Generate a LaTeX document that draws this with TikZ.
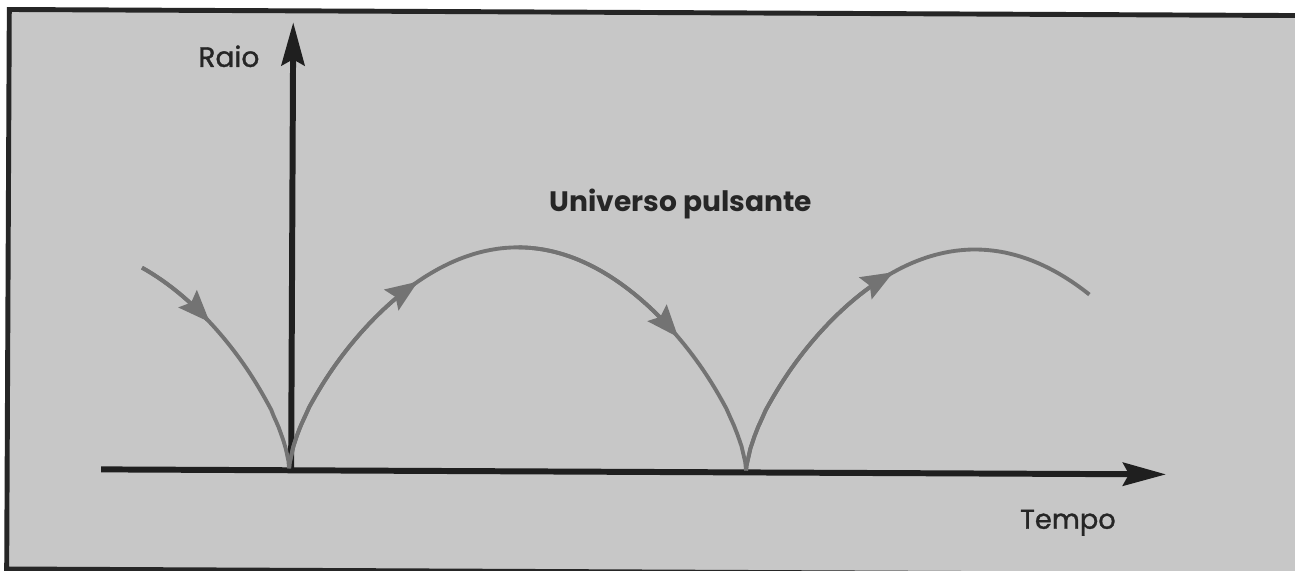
\documentclass[tikz,border=0pt]{standalone}
\usepackage{fontspec}
\setmainfont{Poppins}
\usetikzlibrary{arrows.meta}
\tikzstyle{eixo} = [draw=black!88, line width=3.4pt, -{Stealth[length=0.86cm,width=0.46cm,inset=0.12cm]}]
\tikzstyle{arco} = [draw=black!55, line width=2.2pt, line join=round]
\tikzstyle{arcoseta} = [arco, -{Stealth[length=0.64cm,width=0.5cm,inset=0.1cm]}]
\tikzstyle{rotulo} = [font=\fontsize{16}{18}\selectfont\addfontfeature{FakeBold=1.2}, text=black!85, inner sep=0pt, anchor=base west]

\begin{document}
\begin{tikzpicture}[x=0.02cm, y=-0.02cm,
    declare function={raio(\s)=222*pow(abs(sin(180*\s)),0.65);}]
    \useasboundingbox (0,0) rectangle (1295,571);
    \fill[white] (0,0) rectangle (1295,571);
  \begin{scope}[rotate around={-0.27:(650,285)}]
    % moldura
    \fill[black!22] (8,12.5) rectangle (1320,575);
    \draw[line width=2.8pt, black!85] (1320,12.5) -- (8,12.5) -- (8,572) -- (1320,572);
    % eixos
    \coordinate (O) at (292,472);
    \coordinate (xini) at (102,472);
    \coordinate (xfim) at (1167,472);
    \coordinate (yfim) at (292,24);
    \coordinate (c1) at (290,470);
    \coordinate (c2) at (747,470);
    \draw[eixo] (xini) -- (xfim);
    \draw[eixo] ([yshift=-0.05cm]O) -- (yfim);
    \node[rotulo] (raio) at (197,69) {Raio};
    \node[rotulo, font=\fontsize{15.5}{18}\selectfont\addfontfeature{FakeBold=1.2}] (tempo) at (1021,527) {Tempo};
    \node[rotulo, font=\fontsize{16}{18}\selectfont\bfseries] (titulo) at (549,211.5) {Universo pulsante};
    % ciclo anterior
    \draw[arco] plot[domain=0.676:0.999, samples=60] ({-167+457*\x},{470-raio(\x)}) -- (c1);
    \draw[arcoseta] plot[domain=0.676:0.825, samples=30] ({-167+457*\x},{470-raio(\x)});
    % ciclo central
    \draw[arco] (c1) -- plot[domain=0.001:0.999, samples=120] ({290+457*\x},{470-raio(\x)}) -- (c2);
    \draw[arcoseta] (c1) -- plot[domain=0.001:0.28, samples=40] ({290+457*\x},{470-raio(\x)});
    \draw[arcoseta] plot[domain=0.5:0.85, samples=40] ({290+457*\x},{470-raio(\x)});
    % ciclo seguinte
    \draw[arco] (c2) -- plot[domain=0.001:0.75, samples=90] ({747+457*\x},{470-raio(\x)});
    \draw[arcoseta] (c2) -- plot[domain=0.001:0.32, samples=40] ({747+457*\x},{470-raio(\x)});
  \end{scope}
\end{tikzpicture}
\end{document}
